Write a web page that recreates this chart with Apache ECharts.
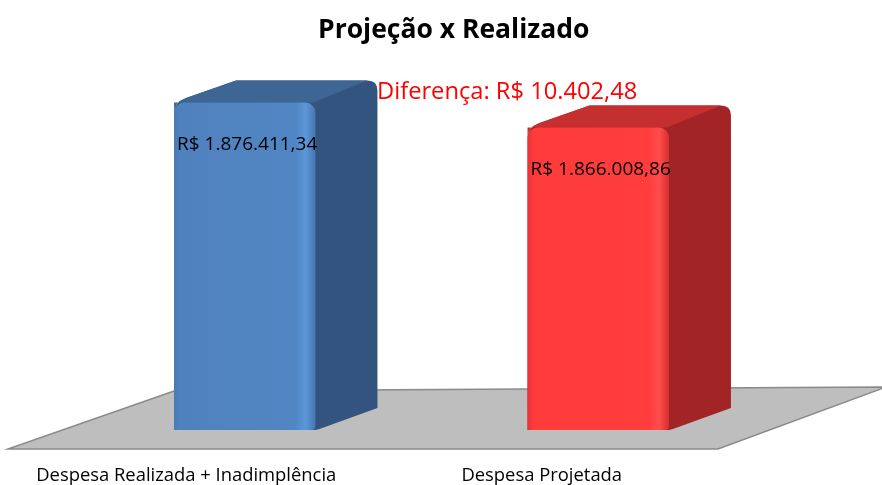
<!DOCTYPE html>
<html>
<head>
<meta charset="utf-8">
<style>html,body{margin:0;padding:0;background:#fff;}#c{width:882px;height:485px;}</style>
<script src="https://cdn.jsdelivr.net/npm/echarts@6/dist/echarts.min.js"></script>
</head>
<body>
<div id="c"></div>
<script>
const categories = ['Despesa Realizada + Inadimplência', 'Despesa Projetada'];
const values = [1876411.34, 1866008.86];
const axisMin = 1740000;
const axisMax = 1880000;

function fmtBRL(v) {
  const neg = v < 0; v = Math.abs(v);
  const parts = v.toFixed(2).split('.');
  const int = parts[0].replace(/\B(?=(\d{3})+(?!\d))/g, '.');
  return (neg ? '-' : '') + 'R$ ' + int + ',' + parts[1];
}
const diff = values[0] - values[1];

const palettes = [
  { front: ['#4A7AB5', '#4F81BD', '#5186C4', '#5C97D9', '#4776B2'], top: '#3E6694', side: '#32547E' },
  { front: ['#E53333', '#FF3B3B', '#FF3D3D', '#FF4C4C', '#D82F2F'], top: '#C52F2F', side: '#A32427' }
];
const DX = 62, DY = -22;

function renderItem(params, api) {
  const i = params.dataIndex;
  const cat = api.value(0), val = api.value(1);
  const topPt = api.coord([cat, val]);
  const basePt = api.coord([cat, axisMin]);
  const w = api.size([1, 0])[0] * 0.4;
  const xl = topPt[0] - w / 2, xr = topPt[0] + w / 2;
  const yT = topPt[1], yB = basePt[1];
  const p = palettes[i];
  const r = 10;
  const Cx = xr + DX, Cy = yT + DY;
  const sil = 'M' + xl + ' ' + (yT + r) +
    ' Q' + xl + ' ' + yT + ' ' + (xl + r * 1.2) + ' ' + (yT - r * 0.45) +
    ' L' + (xl + DX) + ' ' + Cy +
    ' L' + (Cx - r) + ' ' + Cy +
    ' Q' + Cx + ' ' + Cy + ' ' + Cx + ' ' + (Cy + r) +
    ' L' + Cx + ' ' + (yB + DY) +
    ' L' + (xr + 4) + ' ' + (yB - 1) +
    ' L' + xr + ' ' + yB + ' L' + xl + ' ' + yB + ' Z';
  const topFace = 'M' + xl + ' ' + (yT + r) +
    ' Q' + xl + ' ' + yT + ' ' + (xl + r * 1.2) + ' ' + (yT - r * 0.45) +
    ' L' + (xl + DX) + ' ' + Cy +
    ' L' + (Cx - r) + ' ' + Cy +
    ' L' + (xr - 2) + ' ' + yT + ' L' + xl + ' ' + yT + ' Z';
  return {
    type: 'group',
    children: [
      { type: 'path', shape: { pathData: sil }, style: { fill: p.side } },
      { type: 'path', shape: { pathData: topFace }, style: { fill: p.top } },
      {
        type: 'rect',
        shape: { x: xl, y: yT, width: w, height: yB - yT, r: [r, r, 4, 0] },
        style: {
          fill: new echarts.graphic.LinearGradient(0, 0, 1, 0, [
            { offset: 0, color: p.front[0] },
            { offset: 0.04, color: p.front[1] },
            { offset: 0.86, color: p.front[2] },
            { offset: 0.93, color: p.front[3] },
            { offset: 1, color: p.front[4] }
          ])
        }
      },
      {
        type: 'text',
        style: {
          x: xl + 3, y: yT + 42,
          text: fmtBRL(val),
          fill: '#000', fontSize: 19, fontFamily: 'Open Sans',
          align: 'left', verticalAlign: 'middle'
        }
      }
    ]
  };
}

const chart = echarts.init(document.getElementById('c'), null, { renderer: 'canvas' });
chart.setOption({
  animation: false,
  backgroundColor: '#fff',
  title: [
    {
      text: 'Projeção x Realizado', left: 318, top: 12, padding: 0,
      textStyle: { fontFamily: 'Open Sans', fontWeight: 'bold', fontSize: 26.5, color: '#000', lineHeight: 36 }
    },
    {
      text: 'Diferença: ' + fmtBRL(diff), left: 377, top: 77, padding: 0,
      textStyle: { fontFamily: 'Open Sans', fontWeight: 'normal', fontSize: 23.7, color: '#FF0000', lineHeight: 30 }
    }
  ],
  graphic: [
    {
      type: 'polygon', z: -10,
      shape: { points: [[8, 449], [718, 449], [886, 387], [174, 391]] },
      style: { fill: '#BEBEBE', stroke: '#8A8A8A', lineWidth: 1.5 }
    }
  ],
  grid: { left: 68, right: 107, top: 94, bottom: 55 },
  xAxis: {
    type: 'category',
    data: categories,
    axisLine: { show: false },
    axisTick: { show: false },
    axisLabel: {
      margin: 36,
      interval: 0,
      fontFamily: 'Open Sans', fontSize: 18.4, color: '#000',
      formatter: function (v, idx) { return '{c' + idx + '|' + v + '}'; },
      rich: {
        c0: { fontFamily: 'Open Sans', fontSize: 18.4, color: '#000', padding: [0, 117, 0, 0], lineHeight: 20 },
        c1: { fontFamily: 'Open Sans', fontSize: 18.4, color: '#000', padding: [0, 113, 0, 0], lineHeight: 20 }
      }
    }
  },
  yAxis: {
    type: 'value', min: axisMin, max: axisMax, show: false,
    splitLine: { show: false }
  },
  series: [{
    type: 'custom',
    renderItem: renderItem,
    data: values.map(function (v, i) { return [i, v]; }),
    encode: { x: 0, y: 1 },
    clip: false
  }]
});
</script>
</body>
</html>
